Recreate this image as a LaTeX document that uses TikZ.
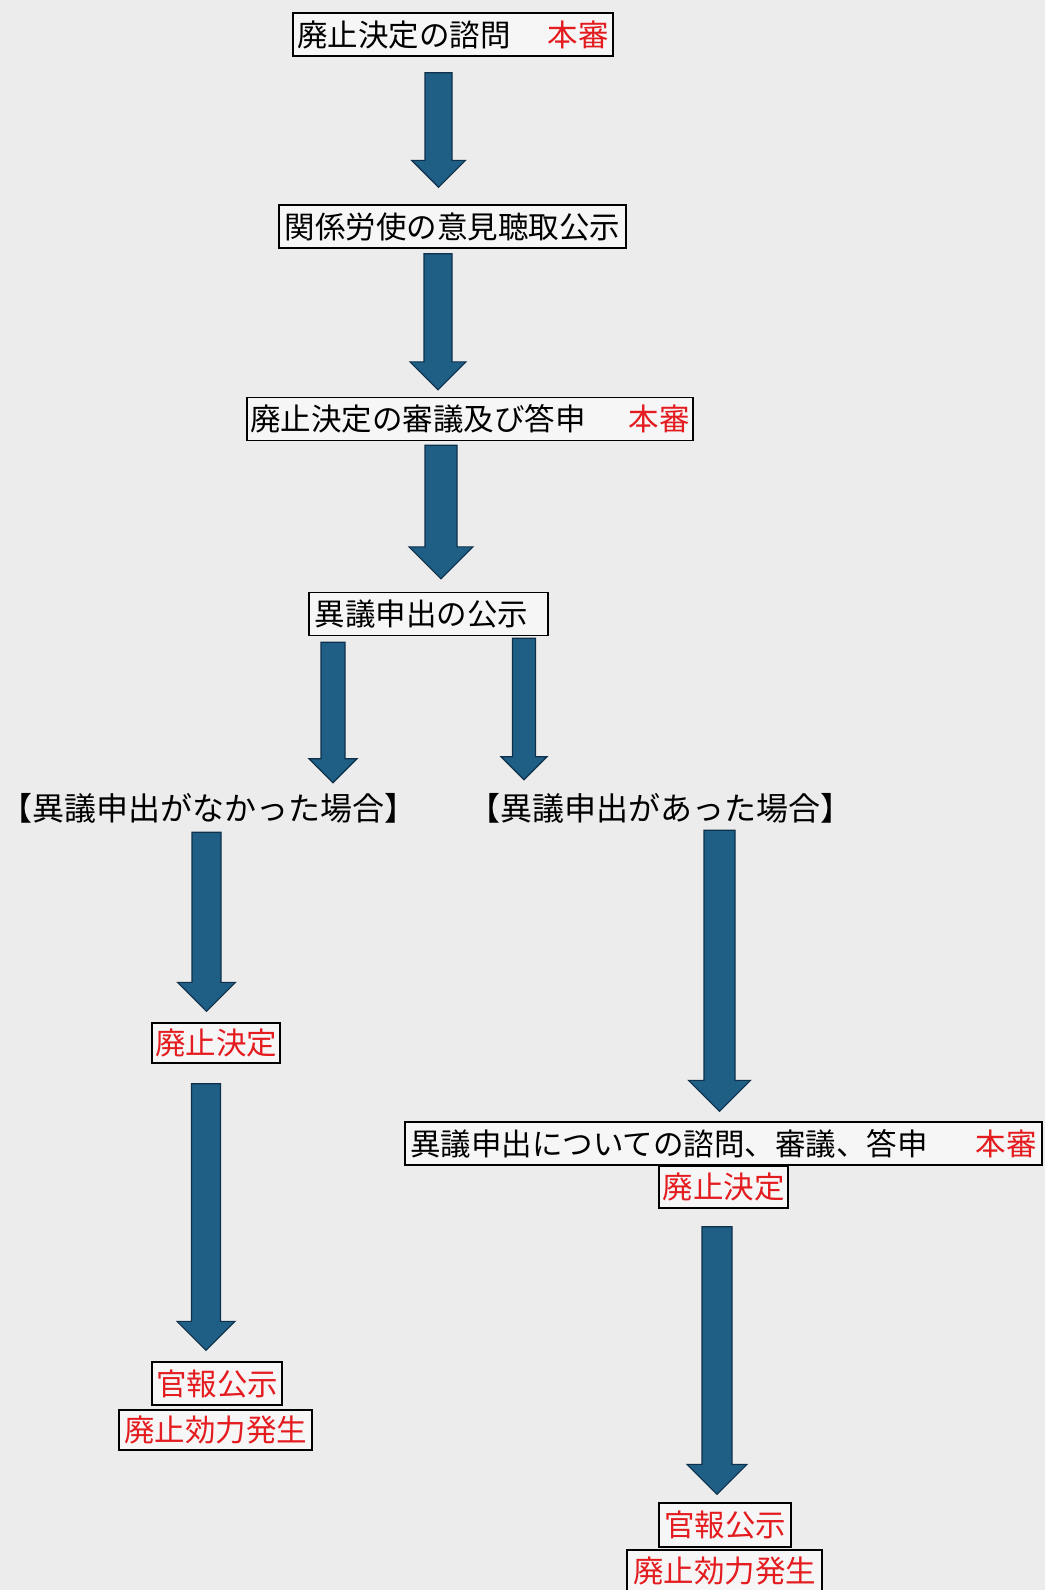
\documentclass[tikz,border=0pt]{standalone}
\usepackage{fontspec}
\setmainfont{Noto Sans CJK JP}
\usepackage{tikz}
\usetikzlibrary{calc,positioning}

\definecolor{paper}{RGB}{236,236,236}
\definecolor{boxfill}{RGB}{246,246,246}
\definecolor{arrowblue}{RGB}{31,94,133}
\definecolor{arrowedge}{RGB}{14,48,74}
\definecolor{honred}{RGB}{228,28,32}

% thick block arrow: start, tip, half shaft width
\newcommand{\bigarrow}[3]{%
  \filldraw[flow] let \p1=#1, \p2=#2 in
    (\x1-#3pt,\y1) -- (\x1+#3pt,\y1) -- (\x1+#3pt,\y2+2*#3pt)
    -- (\x1+2*#3pt,\y2+2*#3pt) -- (\x1,\y2) -- (\x1-2*#3pt,\y2+2*#3pt)
    -- (\x1-#3pt,\y2+2*#3pt) -- cycle;}

\begin{document}
\begin{tikzpicture}[x=1pt, y=-1pt,
  txt/.style={font=\fontsize{30.5}{36}\selectfont},
  box/.style={txt, draw=black, line width=1.3pt, fill=boxfill, inner xsep=3pt, inner ysep=0pt, minimum height=43pt},
  redbox/.style={box, text=honred, minimum height=40pt},
  case/.style={font=\fontsize{32}{38}\selectfont, inner sep=0pt, minimum height=30pt},
  flow/.style={fill=arrowblue, draw=arrowedge, line width=1.2pt, line join=miter}]
  \fill[paper] (0,0) rectangle (1045,1590);
  \useasboundingbox (0,0) rectangle (1045,1590);

  % main column
  \node[box, minimum width=320pt] (b1) at (453,34.5) {廃止決定の諮問\hspace{37pt}\textcolor{honred}{本審}};
  \node[box, minimum width=347pt] (b2) at (452.5,226.5) {関係労使の意見聴取公示};
  \node[box, minimum width=446pt] (b3) at (470,419) {廃止決定の審議及び答申\hspace{43pt}\textcolor{honred}{本審}};
  \node[box, minimum width=239pt] (b4) at (428.5,614) {異議申出の公示\hspace*{14pt}};

  % two cases
  \node[case] (none) at (209,808) {【異議申出がなかった場合】};
  \node[case] (some) at (660,808) {【異議申出があった場合】};

  % left branch
  \node[redbox, minimum width=128pt] (r1) at (216,1043) {廃止決定};
  \node[redbox, minimum width=130pt, minimum height=43pt] (r2) at (217,1383.5) {官報公示};
  \node[redbox, minimum width=193pt] (r3) at (215.5,1430) {廃止効力発生};

  % right branch
  \node[box, minimum width=637pt] (b5) at (723.5,1143.5) {異議申出についての諮問、審議、答申\hspace{48pt}\textcolor{honred}{本審}};
  \node[redbox, minimum width=129pt, minimum height=42pt] (r4) at (723.5,1187) {廃止決定};
  \node[redbox, minimum width=132pt, minimum height=44pt] (r5) at (725,1525) {官報公示};
  \node[redbox, minimum width=195pt, minimum height=42pt] (r6) at (724.5,1571) {廃止効力発生};

  \bigarrow{($(438.5,0 |- b1.south)+(0,16)$)}{($(438.5,0 |- b2.north)+(0,-17)$)}{13.5}
  \bigarrow{($(438,0 |- b2.south)+(0,5)$)}{($(438,0 |- b3.north)+(0,-7)$)}{14}
  \bigarrow{($(441,0 |- b3.south)+(0,4)$)}{($(441,0 |- b4.north)+(0,-13)$)}{16}
  \bigarrow{($(333,0 |- b4.south)+(0,6)$)}{($(333,0 |- none.north)+(0,-10)$)}{12}
  \bigarrow{($(524,0 |- b4.south)+(0,2)$)}{($(524,0 |- some.north)+(0,-13)$)}{11.5}
  \bigarrow{($(206.5,0 |- none.south)+(0,9)$)}{($(206.5,0 |- r1.north)+(0,-11)$)}{14.5}
  \bigarrow{($(206,0 |- r1.south)+(0,20)$)}{($(206,0 |- r2.north)+(0,-11)$)}{14.5}
  \bigarrow{($(719.5,0 |- some.south)+(0,7)$)}{($(719.5,0 |- b5.north)+(0,-10)$)}{15.5}
  \bigarrow{($(717,0 |- r4.south)+(0,18)$)}{($(717,0 |- r5.north)+(0,-8)$)}{15}
\end{tikzpicture}
\end{document}
